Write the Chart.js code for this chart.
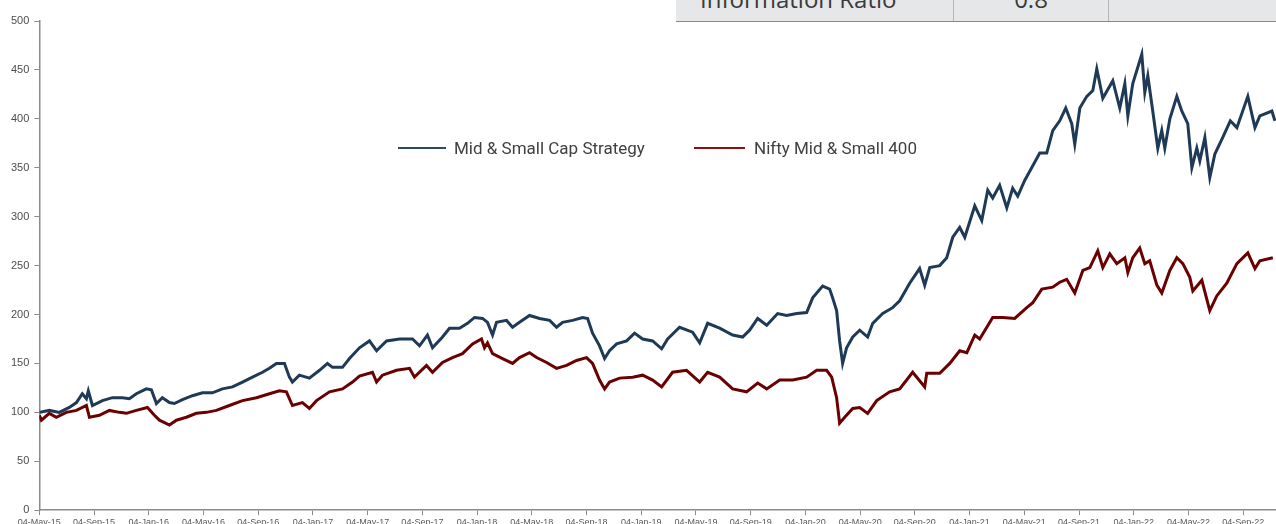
<!DOCTYPE html>
<html>
<head>
<meta charset="utf-8">
<script src="https://cdn.jsdelivr.net/npm/chart.js@4.4.0/dist/chart.umd.min.js"></script>
<style>
    html, body { margin: 0; padding: 0; width: 1276px; height: 524px; overflow: hidden; background: #ffffff; }
    #chartBox { position: absolute; left: 0; top: 0; width: 1276px; height: 530px; }
    #statsTable { position: absolute; left: 676px; top: 0; width: 600px; height: 21px; background: #e6e7e8;
        border-bottom: 1.5px solid #8a8a8a; display: flex; overflow: hidden;
        font-family: "Open Sans", "Noto Sans", sans-serif; font-size: 24px; color: #3a3a3a; }
    #statsTable div { position: relative; height: 21px; overflow: hidden; }
    #statsTable span { position: absolute; left: 0; right: 0; bottom: 10px; text-align: center; line-height: 24px; }
    .legend { position: absolute; top: 138px; font-family: Roboto, sans-serif; font-size: 17px; color: #404040;
        display: flex; align-items: center; white-space: nowrap; }
    .legend i { display: inline-block; height: 2px; }
</style>
</head>
<body>
<div id="chartBox"><canvas id="perfChart"></canvas></div>

<div id="statsTable">
    <div style="width:277px;"><span style="text-align:left; padding-left:24px;">Information Ratio</span></div>
    <div style="width:154px; border-left:1px solid #b5b5b5;"><span>0.8</span></div>
    <div style="flex:1; border-left:1px solid #b5b5b5;"></div>
</div>

<div class="legend" style="left:398px;"><i style="background:#2b4866; width:48px; margin-right:8px;"></i>Mid &amp; Small Cap Strategy</div>
<div class="legend" style="left:694px;"><i style="background:#8b0f0f; width:51px; margin-right:9px;"></i>Nifty Mid &amp; Small 400</div>

<script>
    // x values are months since 04-May-15
    const xTickLabels = ['04-May-15', '04-Sep-15', '04-Jan-16', '04-May-16', '04-Sep-16', '04-Jan-17', '04-May-17', '04-Sep-17',
        '04-Jan-18', '04-May-18', '04-Sep-18', '04-Jan-19', '04-May-19', '04-Sep-19', '04-Jan-20', '04-May-20',
        '04-Sep-20', '04-Jan-21', '04-May-21', '04-Sep-21', '04-Jan-22', '04-May-22', '04-Sep-22'];

    const stratMonths = [0, 0.73, 1.46, 2.19, 2.71, 3.14, 3.44, 3.58, 3.88, 4.61, 5.34, 6.07, 6.58, 7.09, 7.82, 8.19, 8.56, 8.99, 9.51, 9.87,
        10.46, 11.19, 11.92, 12.65, 13.38, 14.12, 14.85, 15.58, 16.31, 16.82, 17.33, 17.92, 18.28, 18.5, 19.01, 19.74, 20.48, 21.06, 21.43, 22.16,
        22.67, 23.4, 24.13, 24.65, 25.38, 26.33, 27.28, 27.79, 28.37, 28.74, 29.47, 29.98, 30.71, 31.3, 31.81, 32.4, 32.76, 33.13, 33.42, 34.15,
        34.59, 35.1, 35.83, 36.57, 37.3, 37.81, 38.25, 38.98, 39.71, 40.08, 40.44, 40.95, 41.32, 41.68, 42.2, 42.93, 43.51, 44.1, 44.83, 45.49,
        45.93, 46.8, 47.75, 48.27, 48.85, 49.73, 50.68, 51.41, 51.92, 52.51, 53.17, 53.97, 54.63, 55.36, 56.09, 56.53, 57.26, 57.77, 57.99, 58.28,
        58.5, 58.72, 59.01, 59.46, 59.97, 60.55, 60.92, 61.65, 62.38, 62.89, 63.62, 64.35, 64.72, 65.09, 65.82, 66.33, 66.77, 67.28, 67.65, 68.38,
        68.89, 69.33, 69.69, 70.2, 70.72, 71.15, 71.52, 72.03, 72.54, 73.13, 73.64, 74.08, 74.59, 75.03, 75.47, 75.69, 76.06, 76.57, 77.01, 77.3,
        77.74, 78.47, 78.98, 79.35, 79.57, 79.93, 80.59, 80.81, 81.03, 81.39, 81.76, 82.05, 82.27, 82.64, 83.15, 83.51, 83.95, 84.25, 84.61, 84.83,
        85.2, 85.56, 85.93, 86.51, 87.06, 87.54, 88.34, 88.86, 89.22, 90.1, 90.32];
    const stratValues = [100, 102, 100, 105, 110, 119, 114, 122, 107, 112, 115, 115, 114, 119, 124, 123, 109, 115, 110, 109,
        113, 117, 120, 120, 124, 126, 131, 136, 141, 145, 150, 150, 136, 131, 138, 135, 143, 150, 146, 146,
        155, 166, 173, 163, 173, 175, 175, 168, 179, 166, 177, 186, 186, 191, 197, 196, 192, 179, 192, 194,
        187, 192, 199, 196, 194, 187, 192, 194, 197, 196, 181, 168, 155, 163, 170, 173, 181, 175, 173, 165,
        175, 187, 182, 171, 191, 186, 179, 177, 184, 196, 189, 201, 199, 201, 202, 217, 229, 226, 217, 204,
        173, 150, 166, 177, 184, 177, 191, 201, 207, 214, 232, 247, 230, 248, 250, 258, 279, 289, 279, 311,
        296, 327, 319, 332, 309, 329, 321, 337, 350, 365, 365, 388, 398, 411, 395, 374, 411, 423, 429, 451,
        421, 439, 411, 436, 403, 436, 466, 427, 444, 408, 370, 388, 370, 400, 423, 408, 395, 350, 370, 357,
        381, 340, 364, 381, 398, 391, 423, 391, 403, 408, 398];

    const niftyMonths = [0, 0.15, 0.73, 1.24, 1.97, 2.71, 3.44, 3.66, 4.39, 5.12, 5.85, 6.36, 7.09, 7.9, 8.41, 8.78, 9.51, 10.02, 10.75, 11.48,
        12.21, 12.94, 13.89, 14.85, 15.87, 16.82, 17.55, 18.06, 18.5, 19.23, 19.74, 20.26, 21.21, 22.16, 22.89, 23.4, 24.35, 24.65, 25.08, 26.11,
        27.06, 27.42, 28.3, 28.74, 29.47, 30.2, 30.93, 31.67, 32.32, 32.54, 32.76, 33.13, 33.86, 34.59, 35.1, 35.83, 36.35, 37.08, 37.81, 38.54,
        39.27, 40, 40.44, 40.95, 41.32, 41.68, 42.42, 43.37, 44.1, 44.83, 45.49, 46.29, 47.31, 48.27, 48.85, 49.73, 50.68, 51.7, 52.51, 53.17,
        54.12, 55.07, 56.09, 56.82, 57.55, 57.92, 58.28, 58.5, 58.87, 59.46, 59.97, 60.55, 61.21, 62.16, 62.89, 63.84, 64.72, 64.87, 65.82, 66.55,
        67.28, 67.8, 68.38, 68.74, 69.69, 70.42, 71.3, 72.18, 72.62, 73.28, 74.08, 74.59, 75.1, 75.69, 76.28, 76.79, 77.37, 77.74, 78.25, 78.76,
        79.35, 79.57, 79.93, 80.44, 80.81, 81.17, 81.69, 82.05, 82.64, 83.15, 83.59, 84.1, 84.32, 84.98, 85.56, 86.07, 86.8, 87.54, 88.34, 88.86,
        89.22, 90.17];
    const niftyValues = [97, 92, 99, 95, 100, 102, 107, 95, 97, 102, 100, 99, 102, 105, 97, 92, 87, 92, 95, 99,
        100, 102, 107, 112, 115, 119, 122, 121, 107, 110, 104, 112, 121, 124, 131, 137, 141, 131, 138, 143,
        145, 136, 148, 141, 151, 156, 160, 170, 175, 166, 171, 160, 155, 150, 156, 161, 156, 151, 145, 148,
        153, 156, 150, 133, 124, 131, 135, 136, 138, 133, 126, 141, 143, 131, 141, 136, 124, 121, 130, 124,
        133, 133, 136, 143, 143, 136, 115, 89, 95, 104, 105, 99, 112, 121, 124, 141, 126, 140, 140, 150,
        163, 161, 179, 175, 197, 197, 196, 207, 212, 226, 228, 233, 236, 222, 245, 248, 265, 248, 262, 252,
        258, 243, 258, 268, 252, 255, 230, 222, 245, 258, 252, 238, 224, 235, 204, 219, 232, 252, 263, 247,
        255, 258];

    const yMin = 0, yMax = 500, yStep = 50;

    function toPoints(xs, ys) {
        return xs.map((x, i) => ({ x: x, y: ys[i] }));
    }

    const ctx = document.getElementById('perfChart').getContext('2d');
    const axisGrey = '#8c8c8c';

    new Chart(ctx, {
        type: 'line',
        data: {
            datasets: [
                {
                    label: 'Mid & Small Cap Strategy',
                    data: toPoints(stratMonths, stratValues),
                    borderColor: '#1e3a56',
                    borderWidth: 3,
                    pointRadius: 0,
                    tension: 0
                },
                {
                    label: 'Nifty Mid & Small 400',
                    data: toPoints(niftyMonths, niftyValues),
                    borderColor: '#6b0000',
                    borderWidth: 3,
                    pointRadius: 0,
                    tension: 0
                }
            ]
        },
        options: {
            responsive: true,
            maintainAspectRatio: false,
            animation: false,
            layout: { padding: { left: 6, top: 21, right: 0, bottom: 0 } },
            plugins: {
                legend: { display: false },
                tooltip: { enabled: false }
            },
            scales: {
                x: {
                    type: 'linear',
                    min: 0,
                    max: 90.4,
                    afterBuildTicks: axis => {
                        axis.ticks = xTickLabels.map((_, i) => ({ value: i * 4 }));
                    },
                    grid: { drawOnChartArea: false, drawTicks: true, tickLength: 5, color: axisGrey },
                    border: { color: axisGrey, width: 1.5 },
                    ticks: {
                        autoSkip: false,
                        maxRotation: 0,
                        padding: 2,
                        color: '#595959',
                        font: { family: 'Liberation Sans', size: 9 },
                        callback: value => xTickLabels[Math.round(value / 4)]
                    }
                },
                y: {
                    min: yMin,
                    max: yMax,
                    grid: { drawOnChartArea: false, drawTicks: true, tickLength: 5, color: axisGrey },
                    border: { color: axisGrey, width: 1.5 },
                    ticks: {
                        stepSize: yStep,
                        padding: 5,
                        color: '#4d4d4d',
                        font: { family: 'Liberation Sans', size: 11 }
                    }
                }
            }
        }
    });
</script>
</body>
</html>
